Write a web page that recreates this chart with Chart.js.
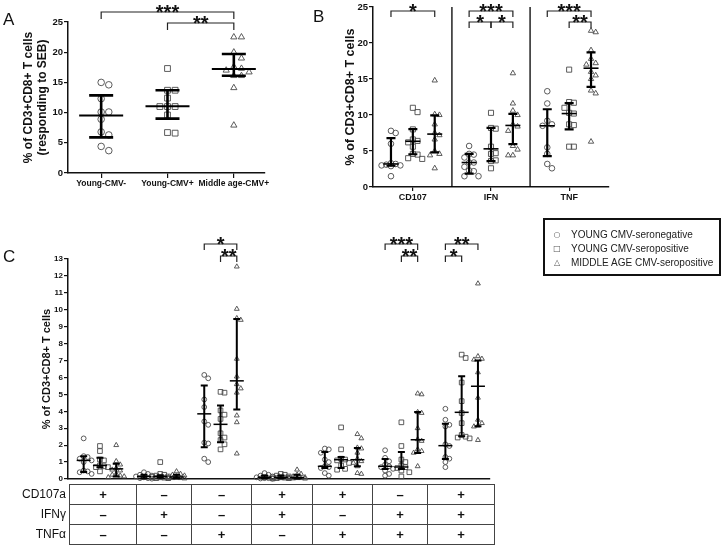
<!DOCTYPE html>
<html><head><meta charset="utf-8">
<script src="https://cdn.jsdelivr.net/npm/chart.js@4.4.1/dist/chart.umd.min.js"></script>
<style>
html,body{margin:0;padding:0;background:#fff;}
body{position:relative;width:725px;height:549px;overflow:hidden;font-family:"Liberation Sans",Arial,sans-serif;color:#111;}
canvas{position:absolute;left:0;top:0;}
.panel{position:absolute;font-size:17px;line-height:17px;}
#legend{position:absolute;left:543px;top:218px;width:174px;height:54px;border:2px solid #111;}
.li{position:absolute;left:0;height:12px;font-size:10px;line-height:12px;white-space:nowrap;}
.li .sym{position:absolute;left:7px;width:10px;text-align:center;color:#555;font-family:"DejaVu Sans",sans-serif;font-size:8px;}
.li .txt{position:absolute;left:26px;color:#222;}
#tbl{position:absolute;left:69px;top:484px;border-collapse:collapse;table-layout:fixed;}
#tbl td{border:1px solid #444;height:19px;padding:0;text-align:center;font-size:13px;font-weight:bold;line-height:19px;}
.rl{position:absolute;left:0;width:66px;text-align:right;font-size:12px;line-height:20px;}
</style></head>
<body>
<canvas id="cA" width="725" height="549"></canvas>
<canvas id="cB" width="725" height="549"></canvas>
<canvas id="cC" width="725" height="549"></canvas>
<div class="panel" style="left:3px;top:11px;">A</div>
<div class="panel" style="left:313px;top:8px;">B</div>
<div class="panel" style="left:3px;top:248px;">C</div>
<div id="legend"></div>
<div id="tblwrap"></div>
<script>
// ---------------- DATA ----------------
const seriesNames = ['YOUNG CMV-seronegative', 'YOUNG CMV-seropositive', 'MIDDLE AGE CMV-seropositive'];

// Panel A: response to SEB
const groupsA = ['Young-CMV-', 'Young-CMV+', 'Middle age-CMV+'];
const sebYoungNeg = [15.0, 14.6, 12.3, 10.1, 10.1, 8.9, 6.8, 6.3, 4.4, 3.7];
const sebYoungPos = [17.3, 13.7, 13.7, 12.4, 11.0, 11.0, 11.0, 9.6, 6.7, 6.6];
const sebMiddlePos = [22.5, 22.5, 20.0, 19.0, 17.6, 17.3, 17.0, 16.7, 16.1, 16.1, 14.1, 7.9];
const sebMedian = [9.5, 11.05, 17.2];
const sebQ1 = [5.9, 9.0, 16.1];
const sebQ3 = [12.85, 13.7, 19.7];
const sigA = [
  {from: [0, 0], to: [2, 0], label: '***', level: 0},
  {from: [1, 0], to: [2, 0], label: '**', level: 1}
];

// Panel B: single functions (per category: CD107, IFN, TNF)
const functionsB = ['CD107', 'IFN', 'TNF'];
const bYoungNeg = [
  [7.8, 7.5, 6.0, 3.3, 3.2, 3.1, 3.0, 3.0, 2.9, 1.5],
  [5.7, 4.6, 4.5, 4.1, 3.4, 3.4, 2.8, 2.3, 2.2, 1.5, 1.5],
  [13.3, 11.6, 9.2, 8.7, 8.5, 5.5, 4.6, 3.2, 2.6]
];
const bYoungPos = [
  [11.0, 10.4, 8.0, 6.6, 6.4, 6.2, 5.6, 4.6, 4.5, 4.0, 3.9],
  [10.3, 8.2, 8.1, 5.6, 4.7, 4.6, 3.7, 3.6, 2.6],
  [16.3, 11.8, 11.7, 11.0, 10.3, 10.2, 8.7, 8.6, 5.6, 5.6]
];
const bMiddlePos = [
  [14.8, 10.1, 10.0, 8.7, 7.5, 7.2, 6.6, 5.0, 4.6, 4.4, 2.6],
  [15.8, 11.6, 10.6, 10.0, 8.7, 8.4, 7.8, 5.7, 5.2, 4.4, 4.4],
  [21.7, 21.5, 19.0, 17.8, 17.2, 17.0, 16.0, 15.5, 15.0, 13.4, 13.0, 6.3]
];
const bMedian = [[3.2, 3.4, 8.5], [6.35, 5.3, 10.2], [7.35, 8.55, 16.5]];
const bQ1 = [[2.95, 1.85, 4.3], [4.55, 3.6, 8.0], [4.8, 5.95, 13.9]];
const bQ3 = [[6.8, 4.6, 10.8], [8.05, 8.2, 11.65], [9.95, 10.15, 18.7]];
const sigB = [
  {from: [0, 0], to: [0, 2], label: '*', level: 0},
  {from: [1, 0], to: [1, 2], label: '***', level: 0},
  {from: [1, 0], to: [1, 1], label: '*', level: 1},
  {from: [1, 1], to: [1, 2], label: '*', level: 1},
  {from: [2, 0], to: [2, 2], label: '***', level: 0},
  {from: [2, 1], to: [2, 2], label: '**', level: 1}
];

// Panel C: combinations of functions
const rowLabels = ['CD107a', 'IFNγ', 'TNFα'];
const cd107aRow = ['+', '–', '–', '+', '+', '–', '+'];
const ifngRow   = ['–', '+', '–', '+', '–', '+', '+'];
const tnfaRow   = ['–', '–', '+', '–', '+', '+', '+'];
const cYoungNeg = [
  [2.4, 1.35, 1.3, 1.2, 1.1, 1.0, 0.5, 0.45, 0.4, 0.3],
  [0.4, 0.3, 0.25, 0.2, 0.15, 0.1, 0.1, 0.05, 0.05, 0.02],
  [6.15, 5.95, 4.7, 4.25, 3.4, 3.2, 2.15, 2.1, 1.2, 1.0],
  [0.35, 0.25, 0.2, 0.15, 0.1, 0.1, 0.05, 0.05, 0.03, 0.02],
  [1.8, 1.75, 1.55, 1.15, 1.0, 0.75, 0.7, 0.65, 0.35, 0.2],
  [1.7, 1.25, 1.05, 0.85, 0.75, 0.7, 0.6, 0.5, 0.3, 0.2],
  [4.15, 3.5, 3.2, 3.1, 2.05, 1.95, 1.3, 1.2, 1.0, 0.7]
];
const cYoungPos = [
  [1.95, 1.65, 1.15, 1.1, 0.8, 0.75, 0.7, 0.7, 0.45],
  [1.0, 0.3, 0.25, 0.2, 0.15, 0.12, 0.1, 0.08, 0.05, 0.05],
  [5.15, 5.1, 4.05, 3.8, 3.55, 2.7, 2.45, 2.3, 2.05, 1.75],
  [0.3, 0.25, 0.2, 0.15, 0.1, 0.1, 0.08, 0.05, 0.05, 0.03],
  [3.05, 1.75, 1.2, 1.15, 1.1, 0.95, 0.8, 0.6, 0.55],
  [3.35, 1.95, 1.15, 1.0, 0.8, 0.7, 0.65, 0.5, 0.4, 0.15],
  [7.35, 7.15, 5.7, 4.6, 3.9, 3.3, 2.6, 2.5, 2.45, 2.4]
];
const cMiddlePos = [
  [2.0, 1.05, 0.85, 0.65, 0.55, 0.5, 0.3, 0.25, 0.2, 0.15, 0.1],
  [0.45, 0.3, 0.25, 0.2, 0.15, 0.1, 0.08, 0.05, 0.05, 0.03, 0.02],
  [12.55, 10.05, 9.5, 9.4, 7.1, 6.05, 5.6, 5.35, 5.1, 3.75, 3.35, 1.5],
  [0.55, 0.3, 0.25, 0.15, 0.1, 0.08, 0.05, 0.05, 0.03, 0.02, 0.02],
  [2.65, 2.4, 1.85, 1.8, 1.55, 1.2, 1.05, 0.95, 0.75, 0.35, 0.3],
  [5.05, 5.0, 3.95, 3.9, 3.0, 2.35, 2.25, 1.75, 1.65, 1.55, 0.75],
  [11.55, 7.25, 7.1, 7.05, 6.3, 4.8, 3.5, 3.3, 3.15, 3.1, 2.3]
];
const cMedian = [[1.1, 0.15, 3.85, 0.1, 0.75, 0.75, 1.97], [0.8, 0.15, 3.23, 0.1, 1.14, 0.71, 3.94], [0.6, 0.12, 5.8, 0.08, 1.14, 2.32, 5.48]];
const cQ1 = [[0.42, 0.05, 1.87, 0.04, 0.65, 0.59, 1.18], [0.7, 0.08, 2.17, 0.05, 0.65, 0.59, 2.52], [0.15, 0.04, 4.1, 0.03, 0.75, 1.54, 3.11]];
const cQ3 = [[1.35, 0.25, 5.53, 0.2, 1.6, 1.18, 3.27], [1.25, 0.22, 4.35, 0.2, 1.3, 1.6, 6.07], [0.9, 0.25, 9.45, 0.25, 1.83, 3.96, 7.0]];
const sigC = [
  {from: [2, 0], to: [2, 2], label: '*', level: 0},
  {from: [2, 1], to: [2, 2], label: '**', level: 1},
  {from: [5, 0], to: [5, 2], label: '***', level: 0},
  {from: [5, 1], to: [5, 2], label: '**', level: 1},
  {from: [6, 0], to: [6, 2], label: '**', level: 0},
  {from: [6, 0], to: [6, 1], label: '*', level: 1}
];

// ---------------- HELPERS ----------------
const FONT = '"Liberation Sans", Arial, sans-serif';
Chart.defaults.font.family = FONT;
Chart.defaults.color = '#111';
const SHAPES = ['circle', 'rect', 'triangle'];

function swarm(vals, tol, step, maxK) {
  const idx = vals.map((v, i) => i).sort((a, b) => vals[b] - vals[a]);
  const seq = [0];
  for (let k = 1; k <= maxK; k++) seq.push(k, -k);
  const placed = [], off = [];
  idx.forEach(i => {
    let best = 0, bestC = Infinity;
    for (const k of seq) {
      const c = placed.filter(p => p.k === k && Math.abs(p.v - vals[i]) < tol).length;
      if (c < bestC) { bestC = c; best = k; }
      if (c === 0) break;
    }
    placed.push({k: best, v: vals[i]});
    off[i] = best * step;
  });
  return off;
}
function pts(vals, center, tol, step, maxK) {
  const o = swarm(vals, tol, step, maxK);
  return vals.map((v, i) => ({x: center + o[i], y: v}));
}
function ds(label, data, shape, r) {
  return {label, data, pointStyle: shape, pointRadius: r, pointHoverRadius: r,
    pointBackgroundColor: 'rgba(0,0,0,0)', pointBorderColor: '#4a4a4a', pointBorderWidth: 0.9,
    showLine: false, clip: false};
}
function yAxis(min, max, step, tickSize, title, titleSize, width) {
  return {type: 'linear', position: 'left', min, max,
    ticks: {stepSize: step, font: {size: tickSize, weight: 'bold'}, color: '#111', padding: 1},
    grid: {drawOnChartArea: false, drawTicks: true, tickLength: 4, color: '#111', lineWidth: 1.2},
    border: {display: true, color: '#111', width: 1.5},
    title: {display: true, text: title, font: {size: titleSize, weight: 'bold'}, color: '#111', padding: 0},
    afterFit(s) { s.width = width; }};
}
function xAxis(min, max, labels, tickSize, height, show, tickLen) {
  return {type: 'linear', position: 'bottom', min, max,
    afterBuildTicks(s) { s.ticks = labels.map((_, i) => ({value: i + 1})); },
    ticks: {display: show, autoSkip: false, maxRotation: 0, minRotation: 0, font: {size: tickSize, weight: 'bold'}, color: '#111', padding: 1,
      callback: (v) => labels[Math.round(v) - 1] ?? ''},
    grid: {drawOnChartArea: false, drawTicks: show, tickLength: tickLen, color: '#111', lineWidth: 1.2},
    border: {display: true, color: '#111', width: 1.5},
    afterFit(s) { s.height = height; }};
}
function overlay(cfg) {
  return {id: 'ov' + cfg.name, afterDatasetsDraw(chart) {
    const {ctx, chartArea: ca, scales: {x, y}} = chart;
    ctx.save();
    ctx.strokeStyle = '#000';
    (cfg.separators || []).forEach(v => {
      const px = x.getPixelForValue(v);
      ctx.lineWidth = 1.3; ctx.beginPath(); ctx.moveTo(px, ca.top); ctx.lineTo(px, ca.bottom); ctx.stroke();
    });
    cfg.bars.forEach(b => {
      const px = x.getPixelForValue(b.x), pm = y.getPixelForValue(b.med),
            pl = y.getPixelForValue(b.lo), ph = y.getPixelForValue(b.hi);
      ctx.lineWidth = cfg.barW; ctx.beginPath();
      ctx.moveTo(px, pl); ctx.lineTo(px, ph);
      ctx.moveTo(px - cfg.capHalf, pl); ctx.lineTo(px + cfg.capHalf, pl);
      ctx.moveTo(px - cfg.capHalf, ph); ctx.lineTo(px + cfg.capHalf, ph);
      ctx.stroke();
      ctx.lineWidth = cfg.medW; ctx.beginPath();
      ctx.moveTo(px - cfg.medHalf, pm); ctx.lineTo(px + cfg.medHalf, pm); ctx.stroke();
    });
    ctx.font = 'bold 20px ' + FONT; ctx.textAlign = 'center'; ctx.textBaseline = 'alphabetic'; ctx.fillStyle = '#111';
    cfg.brackets.forEach(br => {
      const x1 = x.getPixelForValue(br.x1), x2 = x.getPixelForValue(br.x2);
      const yy = ca.top + cfg.brBase + br.level * cfg.brGap;
      ctx.lineWidth = 1.2; ctx.strokeStyle = '#222';
      ctx.beginPath(); ctx.moveTo(x1, yy + cfg.drop); ctx.lineTo(x1, yy); ctx.lineTo(x2, yy); ctx.lineTo(x2, yy + cfg.drop); ctx.stroke();
      ctx.fillText(br.label, (x1 + x2) / 2, yy + 7);
    });
    ctx.restore();
  }};
}
function make(id, datasets, scales, padding, cfg) {
  return new Chart(document.getElementById(id), {type: 'scatter', data: {datasets},
    options: {responsive: false, animation: false, devicePixelRatio: 1, events: [],
      layout: {padding}, plugins: {legend: {display: false}, tooltip: {enabled: false}}, scales},
    plugins: [overlay(cfg)]});
}

// ---------------- PANEL A ----------------
const seriesA = [sebYoungNeg, sebYoungPos, sebMiddlePos];
const radA = [3.3, 4.1, 3.6];
make('cA',
  seriesA.map((vals, i) => ds(seriesNames[i], pts(vals, i + 1, 1.1, 0.115, 3), SHAPES[i], radA[i])),
  {x: xAxis(0.5, 3.47, groupsA, 8.5, 22, true, 5),
   y: yAxis(0, 25, 5, 9.5, ['% of CD3+CD8+ T cells', '(responding to SEB)'], 12, 47)},
  {left: 21, top: 22, right: 460, bottom: 354},
  {name: 'A', capHalf: 12, medHalf: 22, barW: 2.6, medW: 2, brBase: -10, brGap: 11, drop: 7,
   bars: sebMedian.map((m, i) => ({x: i + 1, med: m, lo: sebQ1[i], hi: sebQ3[i]})),
   brackets: sigA.map(s => ({x1: s.from[0] + 1, x2: s.to[0] + 1, label: s.label, level: s.level}))});

// ---------------- PANEL B ----------------
const offB = [-0.28, 0, 0.28];
const seriesB = [bYoungNeg, bYoungPos, bMiddlePos];
const radB = [2.8, 3.6, 3.1];
const barsB = [];
seriesB.forEach((_, s) => functionsB.forEach((_, c) => barsB.push({x: c + 1 + offB[s], med: bMedian[s][c], lo: bQ1[s][c], hi: bQ3[s][c]})));
make('cB',
  seriesB.map((cats, s) => ds(seriesNames[s], cats.flatMap((vals, c) => pts(vals, c + 1 + offB[s], 0.9, 0.06, 2)), SHAPES[s], radB[s])),
  {x: xAxis(0.49, 3.51, functionsB, 9, 18, true, 4),
   y: yAxis(0, 25, 5, 9.5, '% of CD3+CD8+ T cells', 12.5, 29.5)},
  {left: 343.5, top: 7, right: 116, bottom: 344},
  {name: 'B', capHalf: 4.5, medHalf: 7.5, barW: 2.2, medW: 1.6, brBase: 4, brGap: 11, drop: 6, separators: [1.5, 2.5],
   bars: barsB,
   brackets: sigB.map(s => ({x1: s.from[0] + 1 + offB[s.from[1]], x2: s.to[0] + 1 + offB[s.to[1]], label: s.label, level: s.level}))});

// ---------------- PANEL C ----------------
const offC = [-0.27, 0, 0.27];
const seriesC = [cYoungNeg, cYoungPos, cMiddlePos];
const combosC = cd107aRow.map((v, i) => 'CD107a' + v + ' IFNγ' + ifngRow[i] + ' TNFα' + tnfaRow[i]);
const radC = [2.4, 3.3, 2.8];
const barsC = [];
seriesC.forEach((_, s) => combosC.forEach((_, c) => barsC.push({x: c + 1 + offC[s], med: cMedian[s][c], lo: cQ1[s][c], hi: cQ3[s][c]})));
make('cC',
  seriesC.map((cats, s) => ds(seriesNames[s], cats.flatMap((vals, c) => pts(vals, c + 1 + offC[s], 0.3, 0.066, 2)), SHAPES[s], radC[s])),
  {x: xAxis(0.47, 7.47, combosC, 8, 2, false, 0),
   y: yAxis(0, 13, 1, 8, '% of CD3+CD8+ T cells', 11, 27.6)},
  {left: 40.4, top: 259, right: 235, bottom: 68},
  {name: 'C', capHalf: 3.5, medHalf: 7, barW: 2, medW: 1.5, brBase: -15, brGap: 12, drop: 6,
   bars: barsC,
   brackets: sigC.map(s => ({x1: s.from[0] + 1 + offC[s.from[1]], x2: s.to[0] + 1 + offC[s.to[1]], label: s.label, level: s.level}))});

// ---------------- LEGEND ----------------
const symbols = ['○', '□', '△'];
const lg = document.getElementById('legend');
const rowTops = [9, 22.5, 37];
seriesNames.forEach((n, i) => {
  const d = document.createElement('div');
  d.className = 'li'; d.style.top = rowTops[i] + 'px';
  d.innerHTML = '<span class="sym">' + symbols[i] + '</span><span class="txt">' + n + '</span>';
  lg.appendChild(d);
});

// ---------------- TABLE ----------------
const colW = [67, 55, 60, 61, 60, 55, 67];
const rows = [cd107aRow, ifngRow, tnfaRow];
let html = '<table id="tbl" style="width:' + colW.reduce((a, b) => a + b, 0) + 'px"><colgroup>' +
  colW.map(w => '<col style="width:' + w + 'px">').join('') + '</colgroup>';
rows.forEach(r => { html += '<tr>' + r.map(v => '<td>' + v + '</td>').join('') + '</tr>'; });
html += '</table>';
rowLabels.forEach((l, i) => { html += '<div class="rl" style="top:' + (484 + i * 20) + 'px">' + l + '</div>'; });
document.getElementById('tblwrap').innerHTML = html;
</script>
</body></html>
